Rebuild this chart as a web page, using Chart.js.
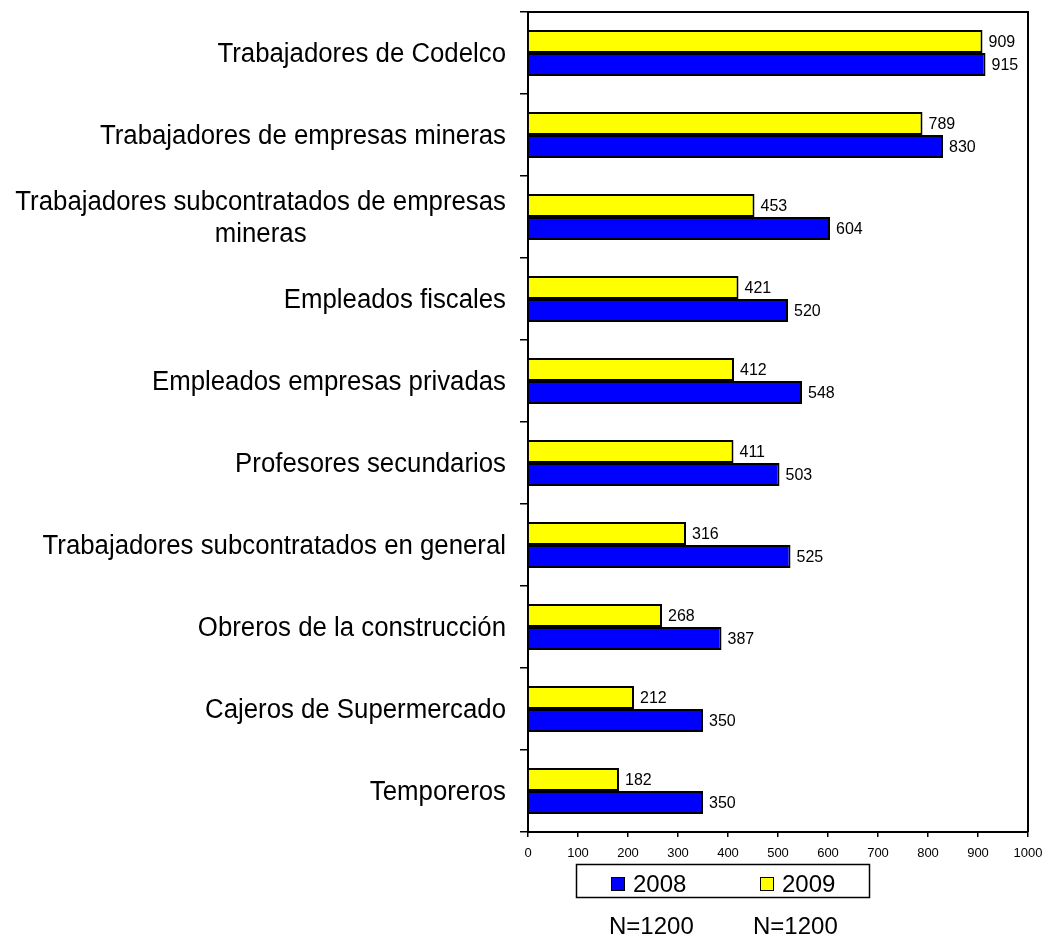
<!DOCTYPE html>
<html>
<head>
<meta charset="utf-8">
<script src="https://cdn.jsdelivr.net/npm/chart.js@4.4.0/dist/chart.umd.min.js"></script>
<style>
html,body{margin:0;padding:0;background:#fff;}
#wrap{width:1042px;height:936px;position:relative;}
</style>
</head>
<body>
<div id="wrap"><canvas id="c" width="1042" height="936"></canvas></div>
<script>
const categories = [
  'Trabajadores de Codelco',
  'Trabajadores de empresas mineras',
  ['Trabajadores subcontratados de empresas', 'mineras'],
  'Empleados fiscales',
  'Empleados empresas privadas',
  'Profesores secundarios',
  'Trabajadores subcontratados en general',
  'Obreros de la construcción',
  'Cajeros de Supermercado',
  'Temporeros'
];
const values2008 = [915, 830, 604, 520, 548, 503, 525, 387, 350, 350];
const values2009 = [909, 789, 453, 421, 412, 411, 316, 268, 212, 182];
const seriesNames = ['2008', '2009'];
const sampleNotes = ['N=1200', 'N=1200'];
const xTicks = [0, 100, 200, 300, 400, 500, 600, 700, 800, 900, 1000];

const FONT = '"Liberation Sans", Arial, sans-serif';

const drawExtras = {
  id: 'drawExtras',
  afterDatasetsDraw(chart) {
    const ctx = chart.ctx;
    ctx.save();
    ctx.fillStyle = '#000';
    ctx.font = '16px ' + FONT;
    ctx.textAlign = 'left';
    ctx.textBaseline = 'middle';
    chart.data.datasets.forEach((ds, di) => {
      const meta = chart.getDatasetMeta(di);
      meta.data.forEach((bar, i) => {
        ctx.fillText(String(ds.data[i]), bar.x + 6, bar.y + 1);
      });
    });
    ctx.restore();
  },
  afterDraw(chart) {
    const ctx = chart.ctx;
    const ca = chart.chartArea;
    const ys = chart.scales.y;
    ctx.save();
    // frame top & right
    ctx.strokeStyle = '#000';
    ctx.lineWidth = 2;
    ctx.beginPath();
    ctx.moveTo(ca.left, ca.top);
    ctx.lineTo(ca.right, ca.top);
    ctx.lineTo(ca.right, ca.bottom);
    ctx.stroke();

    // category labels
    ctx.fillStyle = '#000';
    ctx.font = '27px ' + FONT;
    ctx.textBaseline = 'middle';
    ctx.textAlign = 'center';
    const sx = 0.955;
    const rightEdge = 506;
    chart.data.labels.forEach((lab, i) => {
      const lines = Array.isArray(lab) ? lab : [lab];
      const y = ys.getPixelForValue(i);
      let w = 0;
      lines.forEach(l => { w = Math.max(w, ctx.measureText(l).width * sx); });
      const cx = rightEdge - w / 2;
      const lh = 32;
      lines.forEach((l, j) => {
        const ly = y + 2 + (j - (lines.length - 1) / 2) * lh;
        ctx.save();
        ctx.translate(cx, ly);
        ctx.scale(sx, 1);
        ctx.fillText(l, 0, 0);
        ctx.restore();
      });
    });

    // legend (2008 first, then 2009)
    ctx.lineWidth = 1.5;
    ctx.strokeStyle = '#000';
    ctx.strokeRect(576.5, 864.5, 293, 33);
    const order = [1, 0];
    const sqX = [611, 760];
    ctx.font = '24px ' + FONT;
    ctx.textAlign = 'left';
    ctx.textBaseline = 'middle';
    order.forEach((di, k) => {
      const ds = chart.data.datasets[di];
      ctx.fillStyle = ds.backgroundColor;
      ctx.fillRect(sqX[k], 877, 14, 14);
      ctx.lineWidth = 1;
      ctx.strokeRect(sqX[k] + 0.5, 877.5, 13, 13);
      ctx.fillStyle = '#000';
      ctx.fillText(ds.label, sqX[k] + 22, 885);
    });

    // N notes
    ctx.textBaseline = 'alphabetic';
    ctx.font = '24px ' + FONT;
    const nx = [609, 753];
    sampleNotes.forEach((t, k) => ctx.fillText(t, nx[k], 934));
    ctx.restore();
  }
};

new Chart(document.getElementById('c'), {
  type: 'bar',
  data: {
    labels: categories,
    datasets: [
      {
        label: seriesNames[1],
        data: values2009,
        backgroundColor: '#FFFF00',
        borderColor: '#000',
        borderWidth: 2,
        categoryPercentage: 0.56,
        barPercentage: 1.0
      },
      {
        label: seriesNames[0],
        data: values2008,
        backgroundColor: '#0000FF',
        borderColor: '#000',
        borderWidth: 2,
        categoryPercentage: 0.56,
        barPercentage: 1.0
      }
    ]
  },
  options: {
    indexAxis: 'y',
    responsive: false,
    animation: false,
    layout: { padding: { top: 12, right: 14, bottom: 0, left: 0 } },
    plugins: {
      legend: { display: false },
      tooltip: { enabled: false }
    },
    scales: {
      y: {
        type: 'category',
        offset: true,
        ticks: { display: false },
        grid: {
          offset: true,
          drawOnChartArea: false,
          drawTicks: true,
          tickLength: 8,
          color: '#000',
          lineWidth: 1.5
        },
        border: { display: true, color: '#000', width: 2 },
        afterFit(s) { s.width = 528; s.paddingTop = 0; s.paddingBottom = 0; }
      },
      x: {
        type: 'linear',
        min: 0,
        max: 1000,
        afterBuildTicks(s) { s.ticks = xTicks.map(v => ({ value: v })); },
        ticks: {
          color: '#000',
          font: { family: FONT, size: 13 },
          padding: 9,
          maxRotation: 0,
          autoSkip: false,
          callback: (v) => String(v)
        },
        grid: {
          drawOnChartArea: false,
          drawTicks: true,
          tickLength: 5,
          color: '#000',
          lineWidth: 1.5
        },
        border: { display: true, color: '#000', width: 2 },
        afterFit(s) { s.height = 104; s.paddingLeft = 0; s.paddingRight = 0; }
      }
    }
  },
  plugins: [drawExtras]
});
</script>
</body>
</html>
